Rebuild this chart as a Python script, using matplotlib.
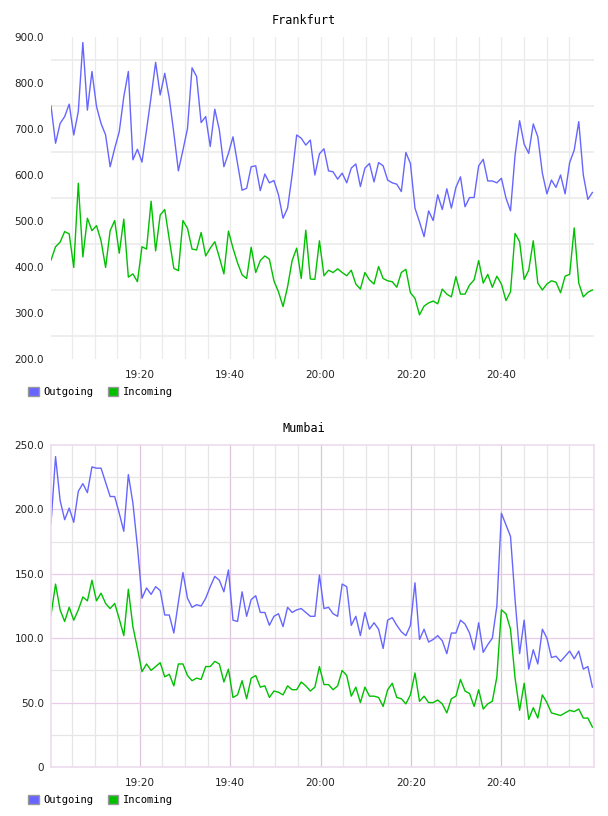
import matplotlib
matplotlib.use("Agg")
import matplotlib.pyplot as plt
from matplotlib.patches import Patch
from matplotlib.ticker import FixedLocator, FuncFormatter, MultipleLocator
import numpy as np

# sample times, minutes after 19:00 (one sample roughly every minute)
start_min = 0.35
step_min = 1.0067
n_samples = 120
sample_min = start_min + step_min * np.arange(n_samples)

frankfurt_out = [
    750, 669, 712, 727, 754, 687, 738, 888, 741, 825,
    749, 712, 687, 618, 658, 694, 770, 825, 633, 656,
    628, 698, 770, 845, 774, 821, 767, 691, 609, 654,
    701, 833, 814, 714, 727, 662, 743, 698, 618, 647,
    683, 625, 567, 571, 618, 620, 566, 602, 583, 588,
    557, 506, 528, 600, 687, 680, 665, 676, 600, 646,
    657, 609, 607, 591, 604, 583, 615, 624, 575, 615,
    625, 585, 627, 620, 589, 583, 580, 564, 649, 625,
    528, 498, 466, 522, 501, 557, 525, 570, 528, 573,
    596, 531, 551, 551, 620, 634, 587, 587, 583, 593,
    550, 522, 643, 718, 667, 647, 711, 683, 604, 559,
    589, 573, 600, 559, 627, 654, 716, 600, 547, 562,
]
frankfurt_in = [
    415, 444, 454, 477, 472, 399, 582, 422, 506, 479,
    490, 457, 399, 479, 501, 430, 504, 378, 385, 368,
    444, 439, 543, 435, 513, 525, 460, 397, 392, 501,
    484, 439, 437, 475, 424, 441, 455, 421, 385, 478,
    441, 409, 383, 375, 443, 388, 414, 424, 417, 370,
    346, 314, 357, 414, 441, 375, 480, 374, 373, 457,
    381, 393, 388, 396, 388, 381, 393, 363, 352, 388,
    372, 363, 401, 375, 370, 368, 356, 388, 395, 344,
    332, 296, 315, 322, 326, 320, 352, 341, 335, 379,
    341, 341, 361, 372, 414, 365, 384, 356, 380, 363,
    327, 346, 473, 455, 373, 393, 457, 365, 350, 363,
    370, 367, 344, 380, 384, 485, 365, 335, 345, 350,
]
mumbai_out = [
    189, 241, 207, 192, 201, 190, 214, 220, 213, 233,
    232, 232, 221, 210, 210, 197, 183, 227, 205, 171,
    131, 139, 134, 140, 137, 118, 118, 104, 128, 151,
    131, 124, 126, 125, 131, 140, 148, 145, 136, 153,
    114, 113, 136, 117, 130, 133, 120, 120, 110, 117,
    119, 109, 124, 120, 122, 123, 120, 117, 117, 149,
    123, 124, 119, 117, 142, 140, 110, 117, 102, 120,
    107, 112, 107, 92, 114, 116, 110, 105, 102, 110,
    143, 99, 107, 97, 99, 102, 98, 88, 104, 104,
    114, 111, 104, 91, 112, 89, 95, 100, 125, 197,
    188, 179, 130, 88, 114, 76, 91, 80, 107, 100,
    85, 86, 82, 86, 90, 84, 90, 76, 78, 62,
]
mumbai_in = [
    118, 142, 122, 113, 124, 114, 122, 132, 129, 145,
    129, 135, 127, 123, 127, 115, 102, 138, 109, 92,
    74, 80, 75, 78, 81, 70, 72, 63, 80, 80,
    71, 67, 69, 68, 78, 78, 82, 80, 66, 76,
    54, 56, 67, 53, 69, 71, 62, 63, 54, 59,
    58, 56, 63, 60, 60, 66, 63, 59, 62, 78,
    64, 64, 60, 63, 75, 71, 55, 62, 50, 62,
    55, 55, 54, 47, 60, 65, 54, 53, 49, 56,
    73, 51, 55, 50, 50, 52, 49, 42, 53, 55,
    68, 59, 57, 47, 60, 45, 49, 51, 70, 122,
    119, 107, 69, 44, 65, 37, 46, 38, 56, 50,
    42, 41, 40, 42, 44, 43, 45, 38, 38, 31,
]

out_color = "#6666ff"
in_color = "#00c000"
mono = "DejaVu Sans Mono"

fig = plt.figure(figsize=(6.08, 8.16), dpi=100)


def fmt_time(m, pos):
    m = int(round(m))
    return f"{19 + m // 60}:{m % 60:02d}"


def setup_axes(ax, ylim, major_grid, minor_grid, border):
    ax.set_xlim(start_min, 120.5)
    ax.set_ylim(*ylim)
    ax.xaxis.set_major_locator(FixedLocator([20, 40, 60, 80, 100]))
    ax.xaxis.set_major_formatter(FuncFormatter(fmt_time))
    ax.yaxis.set_major_locator(MultipleLocator(50 if ylim[1] <= 300 else 100))
    ax.tick_params(length=0, labelsize=7.5, colors="#222222")
    ax.tick_params(axis="y", pad=5)
    ax.tick_params(axis="x", pad=8)
    for m in range(5, 120, 5):
        c = major_grid if (major_grid and m % 20 == 0) else minor_grid
        ax.axvline(m, color=c, lw=0.9, zorder=0)
    for s in ax.spines.values():
        s.set_visible(border is not None)
        if border is not None:
            s.set_color(border)
            s.set_linewidth(1.2)


# Frankfurt
ax1 = fig.add_axes([51 / 608, 1 - 359 / 816, 543 / 608, 322 / 816])
setup_axes(ax1, (200, 900), None, "#ebebeb", None)
for v in range(250, 900, 100):
    ax1.axhline(v, color="#ebebeb", lw=1.2, zorder=0)
ax1.yaxis.set_major_formatter(FuncFormatter(lambda v, p: f"{v:.1f}"))
ax1.plot(sample_min, frankfurt_out, color=out_color, lw=1.0)
ax1.plot(sample_min, frankfurt_in, color=in_color, lw=1.0)

# Mumbai
ax2 = fig.add_axes([51 / 608, 1 - 767 / 816, 543 / 608, 322 / 816])
setup_axes(ax2, (0, 250), "#dcc4dc", "#e6e6e6", "#ecdcec")
for v in range(25, 250, 25):
    c = "#e8cce8" if v % 50 == 0 else "#e6e6e6"
    ax2.axhline(v, color=c, lw=0.9, zorder=0)
ax2.yaxis.set_major_formatter(FuncFormatter(lambda v, p: "0" if v == 0 else f"{v:.1f}"))
ax2.plot(sample_min, mumbai_out, color=out_color, lw=1.0)
ax2.plot(sample_min, mumbai_in, color=in_color, lw=1.0)

fig.text(0.5, 1 - 20 / 816, "Frankfurt", ha="center", va="center", family=mono, fontsize=8.5)
fig.text(0.5, 1 - 429 / 816, "Mumbai", ha="center", va="center", family=mono, fontsize=8.5)

handles = [
    Patch(facecolor=out_color, edgecolor="#999999", label="Outgoing"),
    Patch(facecolor=in_color, edgecolor="#999999", label="Incoming"),
]
for ypix in (392, 800):
    fig.legend(handles=handles, loc="center left", bbox_to_anchor=(23 / 608, 1 - ypix / 816),
               ncol=2, frameon=False, borderpad=0, handlelength=1.0, handleheight=1.0,
               handletextpad=0.45, columnspacing=1.4, prop={"family": mono, "size": 7.5})

fig.savefig("out.png", dpi=100)
